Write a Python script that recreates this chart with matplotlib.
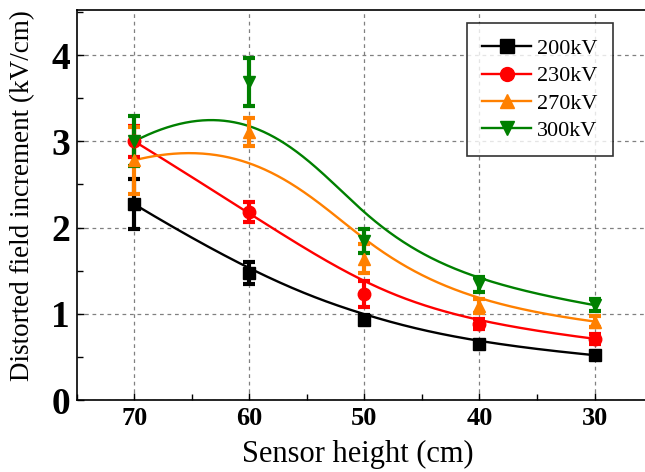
import numpy as np
import matplotlib
matplotlib.use("Agg")
import matplotlib.pyplot as plt
from matplotlib.ticker import MultipleLocator

heights = [70, 60, 50, 40, 30]
labels = ["200kV", "230kV", "270kV", "300kV"]
v200 = [2.27, 1.47, 0.93, 0.65, 0.52]
e200 = [0.29, 0.13, 0.05, 0.04, 0.04]
v230 = [3.00, 2.18, 1.23, 0.88, 0.71]
e230 = [0.18, 0.12, 0.15, 0.06, 0.06]
v270 = [2.78, 3.11, 1.64, 1.09, 0.91]
e270 = [0.39, 0.16, 0.17, 0.08, 0.06]
v300 = [3.00, 3.69, 1.84, 1.34, 1.10]
e300 = [0.29, 0.28, 0.14, 0.09, 0.07]
colors = ["black", "red", "#FF8000", "green"]
markers = ["s", "o", "^", "v"]


def bspline(px, py, k=3, n=400):
    """Clamped B-spline using the data points as control points (Origin-style B-spline line)."""
    px = np.asarray(px, float); py = np.asarray(py, float)
    m = len(px)
    inner = np.linspace(0, 1, m - k + 1)[1:-1]
    t = np.concatenate([np.zeros(k + 1), inner, np.ones(k + 1)])
    s = np.linspace(0, 1, n)
    B = np.zeros((n, len(t) - 1))
    for i in range(len(t) - 1):
        B[:, i] = (s >= t[i]) & (s < t[i + 1])
    B[s >= 1.0, m - 1] = 1.0
    for d in range(1, k + 1):
        Bn = np.zeros((n, len(t) - 1 - d))
        for i in range(len(t) - 1 - d):
            den1 = t[i + d] - t[i]
            den2 = t[i + d + 1] - t[i + 1]
            a = (s - t[i]) / den1 * B[:, i] if den1 > 0 else 0.0
            b = (t[i + d + 1] - s) / den2 * B[:, i + 1] if den2 > 0 else 0.0
            Bn[:, i] = a + b
        B = Bn
    return B @ px, B @ py


plt.rcParams['font.family'] = ['Liberation Serif', 'DejaVu Serif']
fig = plt.figure(figsize=(6.45, 4.72), dpi=100)
ax = fig.add_axes([0.119, 0.1525, 0.892, 0.826])

for vals, errs, c, m, lab in zip([v200, v230, v270, v300], [e200, e230, e270, e300], colors, markers, labels):
    cx, cy = bspline(heights, vals)
    ax.plot(cx, cy, color=c, lw=1.7, zorder=2)
    ax.errorbar(heights, vals, yerr=errs, fmt=m, color=c, ms=9, capsize=4, capthick=3,
                elinewidth=3, zorder=3)
    ax.plot([], [], color=c, marker=m, ms=10, lw=1.7, label=lab)

ax.set_xlim(75, 25)
ax.set_ylim(0, 4.52)
ax.set_xticks(heights)
ax.xaxis.set_minor_locator(MultipleLocator(5))
ax.yaxis.set_major_locator(MultipleLocator(1))
ax.yaxis.set_minor_locator(MultipleLocator(0.5))
ax.tick_params(which='both', direction='in', length=5, width=1)
ax.tick_params(which='minor', length=4)
ax.tick_params(axis='x', labelsize=19, pad=5)
ax.tick_params(axis='y', labelsize=27, pad=5)
for t in ax.get_xticklabels() + ax.get_yticklabels():
    t.set_fontweight('bold')
ax.grid(True, which='major', ls=(0, (3, 3)), color='gray', lw=0.9)
ax.set_axisbelow(True)
ax.set_xlabel("Sensor height (cm)", fontsize=22)
ax.xaxis.set_label_coords(0.489, -0.102)
ax.set_ylabel("Distorted field increment (kV/cm)", fontsize=19.5)
ax.yaxis.set_label_coords(-0.072, 0.525)
for s in ax.spines.values():
    s.set_linewidth(1.2)

leg = ax.legend(loc='upper right', bbox_to_anchor=(0.932, 0.967), fontsize=16, frameon=True,
                fancybox=False, edgecolor='black', handlelength=2.2, handletextpad=0.25,
                labelspacing=0.3, borderpad=0.7, borderaxespad=0)
leg.get_frame().set_linewidth(1.2)

fig.savefig("out.png", dpi=100)
